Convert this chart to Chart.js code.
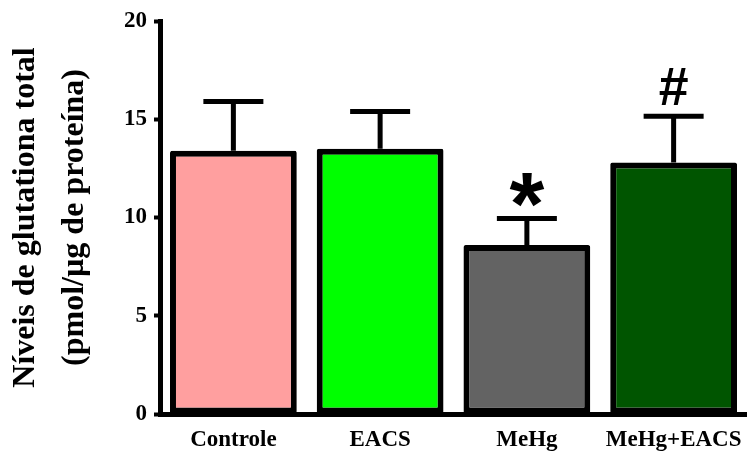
<!DOCTYPE html>
<html>
<head>
<meta charset="utf-8">
<script src="https://cdn.jsdelivr.net/npm/chart.js@4"></script>
<style>
  html, body { margin: 0; padding: 0; background: #fff; }
  #wrap { width: 747px; height: 453px; }
</style>
</head>
<body>
<div id="wrap"><canvas id="barChart"></canvas></div>
<script>
// dados
const categories = ['Controle', 'EACS', 'MeHg', 'MeHg+EACS'];
const means = [13.4, 13.5, 8.6, 12.8];
const errUp = [2.5, 1.9, 1.35, 2.35];
const marks = ['', '', '*', '#'];
const yTicks = [0, 5, 10, 15, 20];
const barColors = ['#ff9f9f', '#00ff00', '#636363', '#005500'];
const titleLines = ['Níveis de glutationa total', '(pmol/µg de proteína)'];

const SERIF = "'Liberation Serif', 'Times New Roman', serif";
const SANS = "'Liberation Sans', Arial, sans-serif";

// barras de erro + marcas de significância
const errorBars = {
    id: 'errorBars',
    afterDatasetsDraw(chart) {
        const ctx = chart.ctx;
        const y = chart.scales.y;
        const meta = chart.getDatasetMeta(0);
        ctx.save();
        ctx.strokeStyle = '#000';
        ctx.lineWidth = 5;
        meta.data.forEach((bar, i) => {
            const x = bar.x;
            const yTop = y.getPixelForValue(means[i]);
            const yErr = y.getPixelForValue(means[i] + errUp[i]);
            ctx.beginPath();
            ctx.moveTo(x, yTop);
            ctx.lineTo(x, yErr);
            ctx.moveTo(x - 30, yErr);
            ctx.lineTo(x + 30, yErr);
            ctx.stroke();

            if (marks[i]) {
                // tamanho do glifo ajustado pela altura desejada
                const target = marks[i] === '*' ? 34 : 37;
                ctx.font = 'bold 100px ' + SANS;
                let m = ctx.measureText(marks[i]);
                const h = m.actualBoundingBoxAscent + m.actualBoundingBoxDescent;
                const size = 100 * target / h;
                ctx.font = 'bold ' + size + 'px ' + SANS;
                m = ctx.measureText(marks[i]);
                const cy = yErr - (marks[i] === '*' ? 28 : 30);
                const base = cy + (m.actualBoundingBoxAscent - m.actualBoundingBoxDescent) / 2;
                ctx.fillStyle = '#000';
                ctx.textAlign = 'center';
                ctx.textBaseline = 'alphabetic';
                ctx.fillText(marks[i], x, base);
            }
        });
        ctx.restore();
    }
};

// título do eixo Y em duas linhas
const yTitle = {
    id: 'yTitle',
    afterDraw(chart) {
        const ctx = chart.ctx;
        const area = chart.chartArea;
        const cy = (area.top + area.bottom) / 2;
        ctx.save();
        ctx.fillStyle = '#000';
        ctx.font = 'bold 32px ' + SERIF;
        ctx.textAlign = 'center';
        ctx.textBaseline = 'middle';
        [26, 75].forEach((x, i) => {
            ctx.save();
            ctx.translate(x, cy);
            ctx.rotate(-Math.PI / 2);
            ctx.fillText(titleLines[i], 0, 0);
            ctx.restore();
        });
        ctx.restore();
    }
};

new Chart(document.getElementById('barChart').getContext('2d'), {
    type: 'bar',
    data: {
        labels: categories,
        datasets: [{
            data: means,
            backgroundColor: barColors,
            borderColor: '#000',
            borderWidth: 6,
            borderSkipped: false,
            borderRadius: 2,
            categoryPercentage: 1,
            barPercentage: 0.864
        }]
    },
    options: {
        responsive: true,
        maintainAspectRatio: false,
        animation: false,
        layout: { padding: { top: 21, right: 0, left: 0, bottom: 0 } },
        plugins: {
            legend: { display: false },
            tooltip: { enabled: false }
        },
        scales: {
            x: {
                afterFit(s) {
                    s.height = 39;
                    s.paddingLeft = 0;
                    s.paddingRight = 0;
                },
                grid: { display: false, drawTicks: false },
                border: { display: true, color: '#000', width: 5 },
                ticks: {
                    color: '#000',
                    padding: 12,
                    autoSkip: false,
                    maxRotation: 0,
                    minRotation: 0,
                    font: { family: SERIF, weight: 'bold', size: 23 }
                }
            },
            y: {
                min: 0,
                max: 20,
                afterFit(s) { s.width = 160; },
                afterBuildTicks(s) { s.ticks = yTicks.map(v => ({ value: v })); },
                grid: {
                    drawOnChartArea: false,
                    drawTicks: true,
                    tickLength: 6,
                    tickWidth: 4,
                    tickColor: '#000'
                },
                border: { display: true, color: '#000', width: 5 },
                ticks: {
                    color: '#000',
                    padding: 7,
                    font: { family: SERIF, weight: 'bold', size: 23 }
                }
            }
        }
    },
    plugins: [errorBars, yTitle]
});
</script>
</body>
</html>
